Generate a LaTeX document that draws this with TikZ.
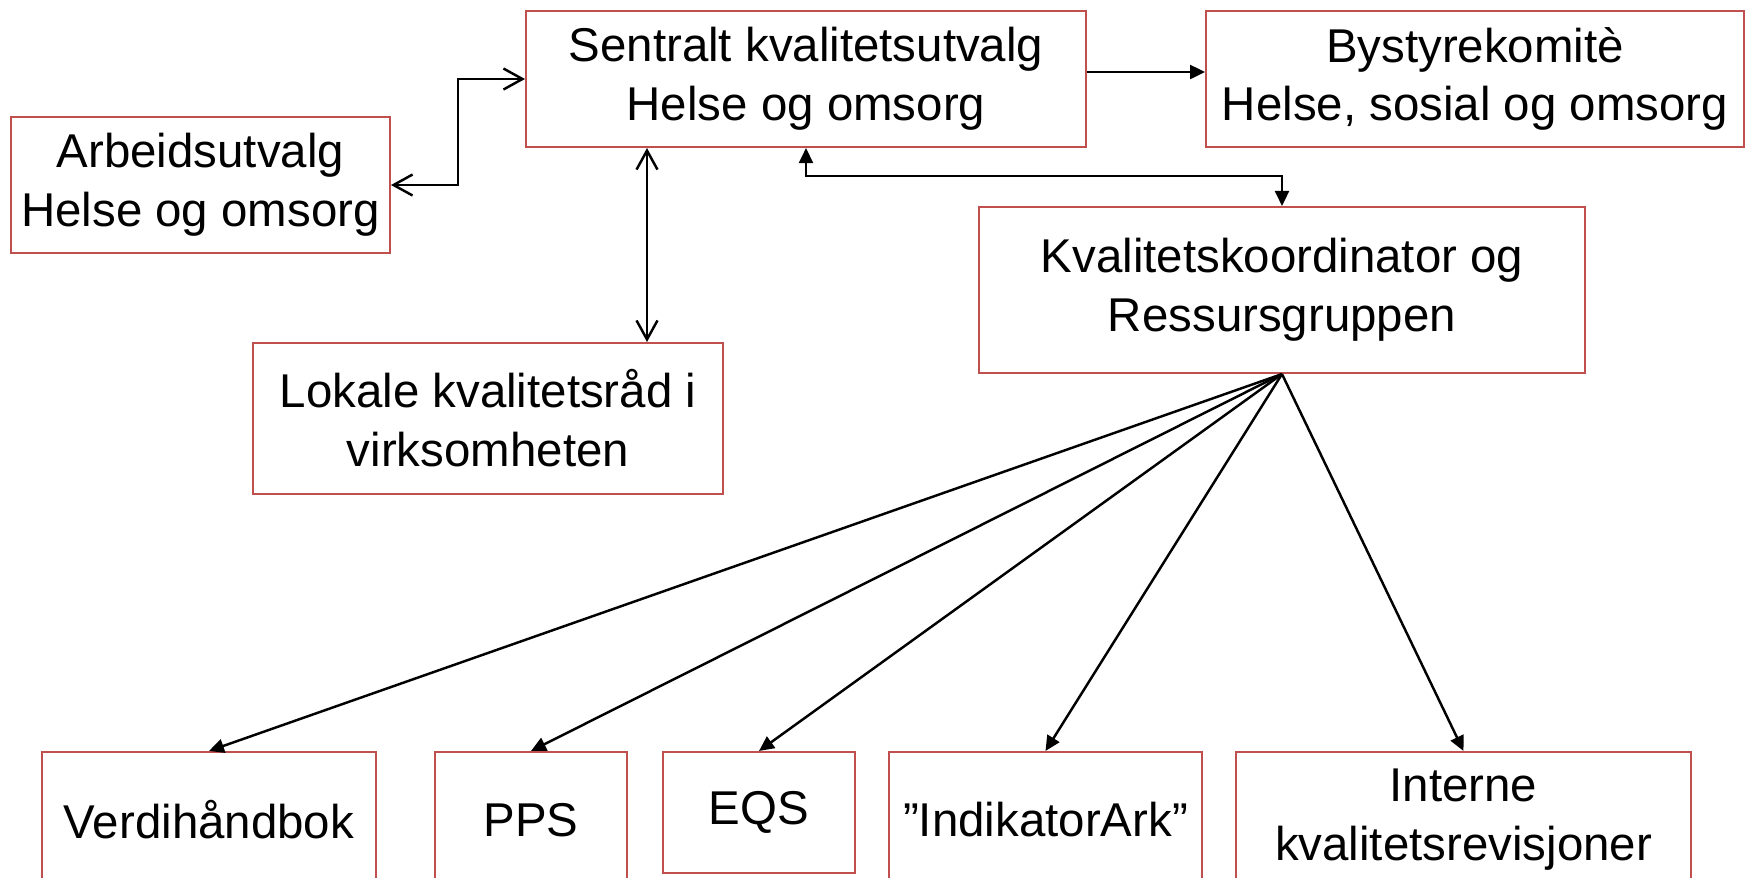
\documentclass[tikz,border=0pt]{standalone}
\usepackage{fontspec}
\setmainfont{Liberation Sans}
\usetikzlibrary{calc,
	arrows.meta,
	positioning}
\definecolor{kantrod}{RGB}{192,80,77}

\begin{document}
\begin{tikzpicture}[x=0.02cm, y=-0.02cm,
		boks/.style={draw=kantrod, line width=1.2pt, align=center, inner sep=0pt,
			font=\fontsize{27}{33.5}\selectfont},
		pil/.style={draw=black, line width=1.4pt},
		aapen/.style={pil, <->, >={Straight Barb[length=3.8mm,width=4.2mm]}},
		fylt/.style={pil, ->, >={Triangle[length=3mm,width=2.8mm]}}]
	\useasboundingbox (0,0) rectangle (1745,877);
	\clip (0,0) rectangle (1745,877);
	% bokser
	\node (sentralt) [boks, minimum width=11.2cm, minimum height=2.72cm] at (806,79) {Sentralt kvalitetsutvalg\\Helse og omsorg};
	\node (bysty) [boks, minimum width=10.76cm, minimum height=2.72cm] at (1475,79) {Bystyrekomitè\\Helse, sosial og omsorg};
	\node (arbeid) [boks, minimum width=7.58cm, minimum height=2.72cm] at (200.5,185) {Arbeidsutvalg\\Helse og omsorg};
	\node (kval) [boks, minimum width=12.12cm, minimum height=3.32cm] at (1282,290) {Kvalitetskoordinator og\\Ressursgruppen};
	\node (lokale) [boks, minimum width=9.4cm, minimum height=3.02cm] at (488,418.5) {Lokale kvalitetsråd i\\virksomheten};
	\node (verdi) [boks, minimum width=6.68cm, minimum height=2.72cm] at (209,820) {Verdihåndbok};
	\node (pps) [boks, minimum width=3.84cm, minimum height=2.72cm] at (531,820) {PPS};
	\node (eqs) [boks, minimum width=3.84cm, minimum height=2.42cm] at (759,812.5) {EQS};
	\node (indikator) [boks, minimum width=6.26cm, minimum height=2.72cm] at (1045.5,820) {”IndikatorArk”};
	\node (interne) [boks, minimum width=9.1cm, minimum height=2.72cm] at (1463.5,820) {Interne\\kvalitetsrevisjoner};
	\coordinate (lokalx) at (647,0);
	% piler
	\draw [aapen] (arbeid.east) -| ($(arbeid.east)!0.5!(sentralt.west)$) |- (sentralt.west);
	\draw [aapen] (lokale.north -| lokalx) -- (sentralt.south -| lokalx);
	\draw [fylt] ([yshift=0.14cm]sentralt.east) -- ([yshift=0.14cm]sentralt.east -| bysty.west);
	\draw [fylt, <->] (kval.north) -- ++(0,-30) -| (sentralt.south);
	\foreach \maal in {verdi, pps, eqs, indikator, interne}
		\draw [fylt] (kval.south) -- (\maal.north);
\end{tikzpicture}
\end{document}
